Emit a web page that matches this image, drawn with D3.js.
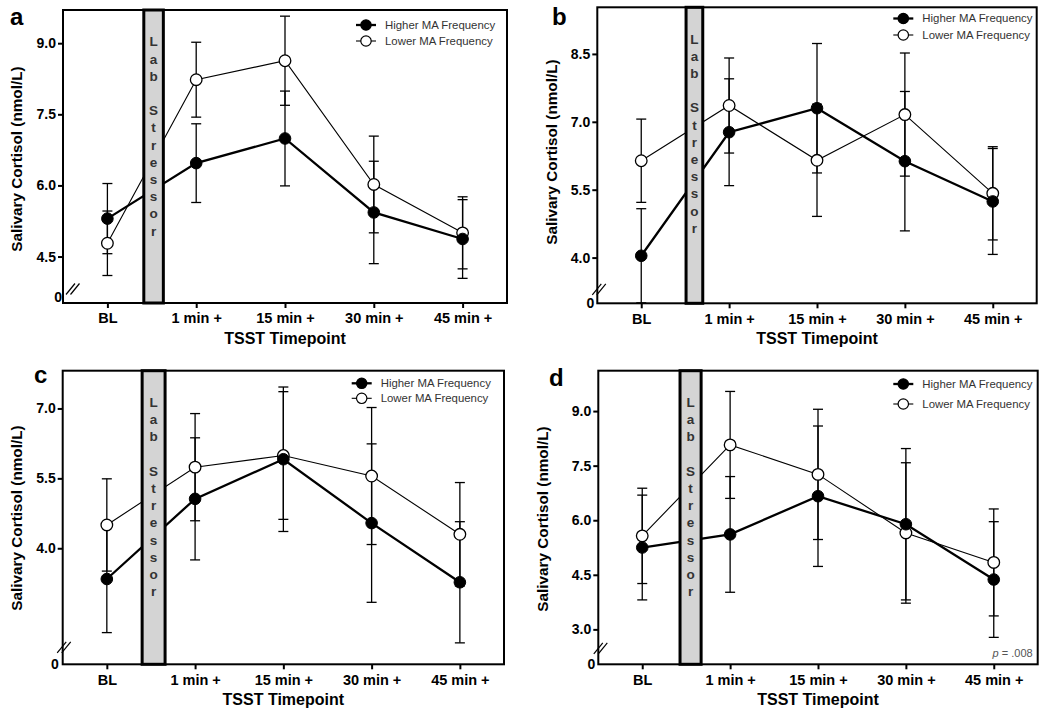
<!DOCTYPE html>
<html><head><meta charset="utf-8">
<script src="https://cdn.jsdelivr.net/npm/d3@7"></script>
<style>
body{margin:0;background:#fff;}
svg{display:block;font-family:"Liberation Sans",Arial,Helvetica,sans-serif;}
</style></head><body>
<svg id="chart" width="1050" height="720"></svg>
<script>
// ---------- DATA ----------
const categories = ["BL", "1 min +", "15 min +", "30 min +", "45 min +"];
const seriesNames = ["Higher MA Frequency", "Lower MA Frequency"];
const stressorLabel = "Lab Stressor";
const yTitle = "Salivary Cortisol (nmol/L)";
const xTitle = "TSST Timepoint";

// panel a
const higherA = [5.30, 6.47, 6.99, 5.43, 4.87];
const higherErrA = [0.74, 0.83, 1.00, 1.08, 0.83];
const lowerA = [4.78, 8.23, 8.63, 6.02, 5.00];
const lowerErrA = [0.68, 0.79, 0.94, 1.02, 0.76];
const ticksA = [0, 4.5, 6.0, 7.5, 9.0];
const domainA = [3.52, 9.70];

// panel b
const higherB = [4.04, 6.77, 7.30, 6.13, 5.24];
const higherErrB = [1.04, 1.18, 1.43, 1.54, 1.17];
const lowerB = [6.14, 7.36, 6.15, 7.16, 5.42];
const lowerErrB = [0.92, 1.05, 1.24, 1.36, 1.03];
const ticksB = [0, 4.0, 5.5, 7.0, 8.5];
const domainB = [2.99, 9.53];

// panel c
const higherC = [3.34, 5.06, 5.91, 4.54, 3.27];
const higherErrC = [1.15, 1.31, 1.55, 1.70, 1.30];
const lowerC = [4.50, 5.74, 5.99, 5.55, 4.30];
const lowerErrC = [0.99, 1.15, 1.37, 1.47, 1.11];
const ticksC = [0, 4.0, 5.5, 7.0];
const domainC = [1.51, 7.81];

// panel d
const higherD = [5.25, 5.61, 6.66, 5.89, 4.37];
const higherErrD = [1.44, 1.59, 1.93, 2.08, 1.59];
const lowerD = [5.57, 8.07, 7.26, 5.65, 4.84];
const lowerErrD = [1.31, 1.47, 1.79, 1.93, 1.47];
const ticksD = [0, 3.0, 4.5, 6.0, 7.5, 9.0];
const domainD = [2.04, 10.11];
const noteD = ".008";

const panels = [
  {id:"a", higher:higherA, higherErr:higherErrA, lower:lowerA, lowerErr:lowerErrA, ticks:ticksA, domain:domainA, note:null},
  {id:"b", higher:higherB, higherErr:higherErrB, lower:lowerB, lowerErr:lowerErrB, ticks:ticksB, domain:domainB, note:null},
  {id:"c", higher:higherC, higherErr:higherErrC, lower:lowerC, lowerErr:lowerErrC, ticks:ticksC, domain:domainC, note:null},
  {id:"d", higher:higherD, higherErr:higherErrD, lower:lowerD, lowerErr:lowerErrD, ticks:ticksD, domain:domainD, note:noteD}
];

// ---------- LAYOUT ----------
const layout = {
  a:{left:63, right:507, top:10, bottom:303, letter:[10,25], yLab:[17,159], legend:{x:366,y:25,gap:16}, stressor:[0.41,0.63], brk:{dx:10,dy:-14}, zero:{dx:-1,dy:-6}},
  b:{left:597.3, right:1036.7, top:7.3, bottom:303.3, letter:[552,25], yLab:[551.5,152], legend:{x:903.3,y:18.5,gap:16.5}, stressor:[0.51,0.70], brk:{dx:2,dy:-14}, zero:{dx:-3,dy:0}},
  c:{left:62.7, right:504, top:370.7, bottom:664.3, letter:[34,383], yLab:[17,518], legend:{x:361.7,y:383.3,gap:15}, stressor:[0.40,0.66], brk:{dx:1.5,dy:-17}, zero:{dx:-4,dy:0}},
  d:{left:598.3, right:1037.7, top:370.7, bottom:664.3, letter:[549,386], yLab:[542.5,519], legend:{x:903.3,y:384,gap:20}, stressor:[0.43,0.67], brk:{dx:2.5,dy:-16}, zero:{dx:-3,dy:0}}
};

const svg = d3.select("#chart");

function drawPanel(p, L) {
  const g = svg.append("g").attr("class","panel-"+p.id);
  const n = categories.length;
  const x = d3.scaleLinear().domain([-0.5, n - 0.5]).range([L.left, L.right]);
  const y = d3.scaleLinear().domain([0, p.domain[0], p.domain[1]])
              .range([L.bottom, L.bottom, L.top]).clamp(true);

  const line = d3.line().x((d,i)=>x(i)).y(d=>y(d));

  // connecting lines (drawn under the stressor bar)
  g.append("path").datum(p.lower).attr("d", line)
    .attr("fill","none").attr("stroke","#000").attr("stroke-width",1.1);
  g.append("path").datum(p.higher).attr("d", line)
    .attr("fill","none").attr("stroke","#000").attr("stroke-width",2.3);

  // stressor bar
  const sx0 = x(L.stressor[0]), sx1 = x(L.stressor[1]);
  g.append("rect").attr("x", sx0).attr("y", L.top)
    .attr("width", sx1 - sx0).attr("height", L.bottom - L.top)
    .attr("fill","#d4d4d4").attr("stroke","#000").attr("stroke-width",3);
  const chars = stressorLabel.split("");
  g.append("g").selectAll("text").data(chars).join("text")
    .attr("x", (sx0 + sx1)/2)
    .attr("y", (d,i)=> L.top + 31.5 + i*17.2)
    .attr("dy","0.36em")
    .attr("text-anchor","middle")
    .attr("font-size",13.5).attr("font-weight","bold").attr("fill","#333")
    .text(d=>d);

  // error bars
  const cap = 5;
  function errBars(vals, errs) {
    const eg = g.append("g").attr("stroke","#000").attr("stroke-width",1.3);
    vals.forEach((v,i)=>{
      const yt = y(v + errs[i]), yb = y(v - errs[i]), xc = x(i);
      eg.append("line").attr("x1",xc).attr("x2",xc).attr("y1",yt).attr("y2",yb);
      eg.append("line").attr("x1",xc-cap).attr("x2",xc+cap).attr("y1",yt).attr("y2",yt);
      eg.append("line").attr("x1",xc-cap).attr("x2",xc+cap).attr("y1",yb).attr("y2",yb);
    });
  }
  errBars(p.lower, p.lowerErr);
  errBars(p.higher, p.higherErr);

  // markers
  g.append("g").selectAll("circle").data(p.lower).join("circle")
    .attr("cx",(d,i)=>x(i)).attr("cy",d=>y(d)).attr("r",5.8)
    .attr("fill","#fff").attr("stroke","#000").attr("stroke-width",1.3);
  g.append("g").selectAll("circle").data(p.higher).join("circle")
    .attr("cx",(d,i)=>x(i)).attr("cy",d=>y(d)).attr("r",5.8)
    .attr("fill","#000").attr("stroke","#000").attr("stroke-width",1);

  // frame
  g.append("rect").attr("x",L.left).attr("y",L.top)
    .attr("width",L.right-L.left).attr("height",L.bottom-L.top)
    .attr("fill","none").attr("stroke","#000").attr("stroke-width",2);

  // y axis
  const yAxis = d3.axisLeft(y).tickValues(p.ticks)
    .tickFormat(d => d === 0 ? "0" : d3.format(".1f")(d))
    .tickSize(5).tickPadding(2);
  const ya = g.append("g").attr("transform",`translate(${L.left},0)`).call(yAxis);
  ya.select(".domain").remove();
  ya.selectAll(".tick line").attr("stroke","#000").attr("stroke-width",2);
  ya.selectAll(".tick text").attr("font-size",14).attr("font-weight","bold")
    .attr("fill","#000").attr("font-family",null);
  const zt = ya.selectAll(".tick").filter(d=>d===0);
  zt.select("line").remove();
  zt.select("text").attr("x", L.zero.dx).attr("y", L.zero.dy);

  // axis break marks
  const bx = L.left + L.brk.dx, by = L.bottom + L.brk.dy;
  [[-7,2],[-2.5,6.5]].forEach(([a,b])=>{
    g.append("line").attr("x1",bx+a).attr("y1",by+5.5).attr("x2",bx+b).attr("y2",by-5.5)
      .attr("stroke","#000").attr("stroke-width",1.2);
  });

  // x axis
  const xAxis = d3.axisBottom(x).tickValues(d3.range(n))
    .tickFormat(i=>categories[i]).tickSize(5).tickPadding(5);
  const xa = g.append("g").attr("transform",`translate(0,${L.bottom})`).call(xAxis);
  xa.select(".domain").remove();
  xa.selectAll(".tick line").attr("stroke","#000").attr("stroke-width",2);
  xa.selectAll(".tick text").attr("font-size",14.5).attr("font-weight","bold")
    .attr("fill","#000").attr("font-family",null);

  // titles
  g.append("text").attr("x",(L.left+L.right)/2).attr("y",L.bottom+41)
    .attr("text-anchor","middle").attr("font-size",16).attr("font-weight","bold")
    .text(xTitle);
  g.append("text").attr("transform",`translate(${L.yLab[0]},${L.yLab[1]}) rotate(-90)`)
    .attr("text-anchor","middle").attr("dy","0.35em")
    .attr("font-size",15.3).attr("font-weight","bold").text(yTitle);

  // panel letter
  g.append("text").attr("x",L.letter[0]).attr("y",L.letter[1])
    .attr("font-size",24).attr("font-weight","bold").text(p.id);

  // legend
  const lg = g.append("g");
  seriesNames.forEach((name,i)=>{
    const ly = L.legend.y + i*L.legend.gap, lx = L.legend.x;
    lg.append("line").attr("x1",lx-10).attr("x2",lx+10).attr("y1",ly).attr("y2",ly)
      .attr("stroke","#000").attr("stroke-width", i===0 ? 2.3 : 1.1);
    lg.append("circle").attr("cx",lx).attr("cy",ly).attr("r",5.2)
      .attr("fill", i===0 ? "#000" : "#fff").attr("stroke","#000").attr("stroke-width",1.2);
    lg.append("text").attr("x",lx+19).attr("y",ly).attr("dy","0.35em")
      .attr("font-size",11.4).attr("fill","#333").text(name);
  });

  // note
  if (p.note) {
    const t = g.append("text").attr("x",L.right-5).attr("y",L.bottom-7)
      .attr("text-anchor","end").attr("font-size",11).attr("fill","#555");
    t.append("tspan").attr("font-style","italic").text("p");
    t.append("tspan").text(" = " + p.note);
  }
}

panels.forEach(p => drawPanel(p, layout[p.id]));
</script>
</body></html>
